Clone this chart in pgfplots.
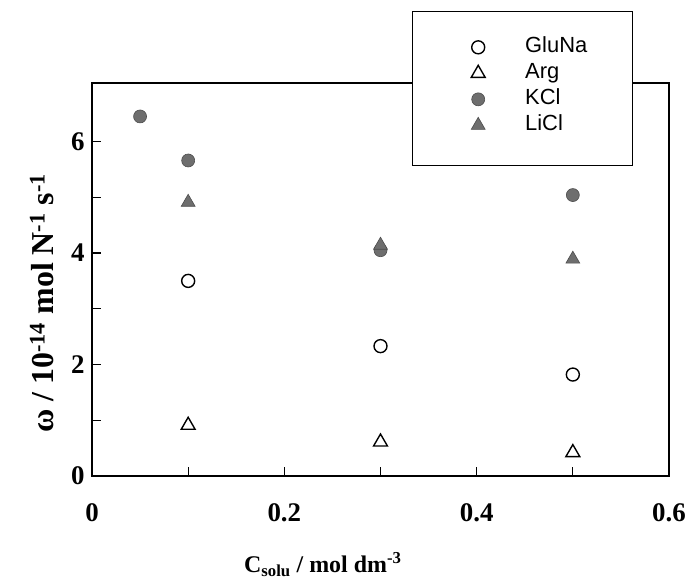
\documentclass[border=0pt]{standalone}
\usepackage{pgfplots}
\pgfplotsset{compat=1.18}
\usepackage{fontspec}
\setmainfont{Liberation Serif}
\newfontfamily\legfont{Liberation Sans}

\definecolor{markgray}{HTML}{6E6E6E}

\begin{document}
\begin{tikzpicture}
\begin{axis}[
    scale only axis,
    width=577bp, height=393bp,
    xmin=0, xmax=0.6,
    ymin=0, ymax=7.05,
    axis line style={line width=1.4pt},
    tick style={line width=1.1pt, black},
    major tick length=9bp,
    tick align=inside,
    xtick pos=bottom, ytick pos=left,
    xtick={0,0.1,0.2,0.3,0.4,0.5,0.6},
    xticklabels={0,,0.2,,0.4,,0.6},
    ytick={0,1,2,3,4,5,6},
    yticklabels={0,,2,,4,,6},
    /pgf/number format/assume math mode=true,
    ticklabel style={font=\fontsize{27}{29}\selectfont\bfseries},
    xticklabel style={yshift=-24bp},
    yticklabel style={xshift=-4bp},
    xlabel={C\textsubscript{solu} / mol dm\textsuperscript{-3}},
    ylabel={ω / 10\textsuperscript{-14} mol N\textsuperscript{-1} s\textsuperscript{-1}},
    xlabel style={font=\fontsize{24}{26}\selectfont\bfseries,
        at={(axis description cs:0.40,-0.225)}, anchor=center},
    ylabel style={font=\fontsize{32}{34}\selectfont\bfseries,
        at={(axis description cs:-0.087,0.44)}, anchor=center},
    legend style={
        at={(axis description cs:0.657,1.118)}, anchor=north west,
        draw=none, fill=none,
        font=\fontsize{22}{24}\selectfont\legfont,
        inner xsep=0pt, inner ysep=0pt,
        row sep=5bp, column sep=40bp,
        nodes={inner sep=0pt, text height=16bp, text depth=5bp},
    },
    legend cell align=left,
    clip=false,
]
% legend frame, drawn before the data so it hides the top axis line
\draw[line width=1.1pt, fill=white]
    (axis description cs:0.556,1.181) rectangle (axis description cs:0.936,0.791);
\addplot[only marks, mark=o, mark size=6.5bp, mark options={line width=1.4pt, draw=black}]
    coordinates {(0.1,3.50) (0.3,2.33) (0.5,1.82)};
\addlegendentry{GluNa}
\addplot[only marks, mark=triangle, mark size=8bp, mark options={line width=1.4pt, draw=black}]
    coordinates {(0.1,0.91) (0.3,0.61) (0.5,0.42)};
\addlegendentry{Arg}
\addplot[only marks, mark=*, mark size=6.5bp, mark options={draw=black!70, fill=markgray, line width=0.6pt}]
    coordinates {(0.05,6.45) (0.1,5.66) (0.3,4.05) (0.5,5.04)};
\addlegendentry{KCl}
\addplot[only marks, mark=triangle*, mark size=8bp, mark options={draw=black!70, fill=markgray, line width=0.6pt}]
    coordinates {(0.1,4.91) (0.3,4.14) (0.5,3.89)};
\addlegendentry{LiCl}
\end{axis}
\path (-92bp,-110bp) rectangle (600bp,476bp);
\end{tikzpicture}
\end{document}
